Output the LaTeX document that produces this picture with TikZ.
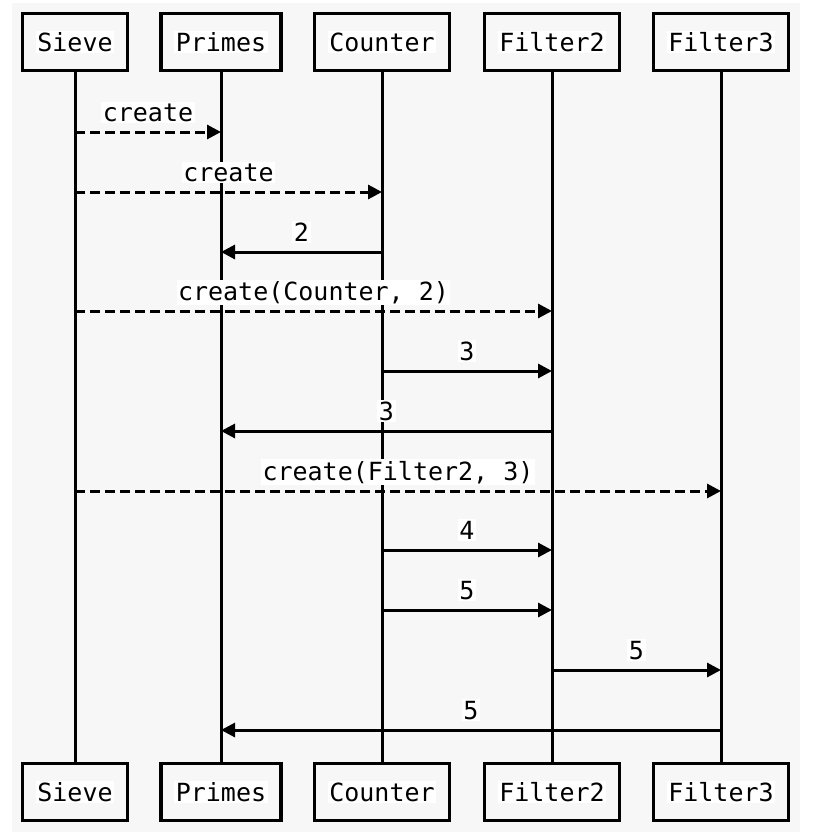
\documentclass[tikz,border=0pt]{standalone}
\usepackage{fontspec}
\usetikzlibrary{arrows.meta}
\newfontfamily\seqmono{DejaVu Sans Mono}
\newcommand\objfont{\seqmono\fontsize{25pt}{30pt}\selectfont}
\newcommand\wtxt[1]{{\setlength\fboxsep{1.5pt}\colorbox{white}{#1}}}
\definecolor{bg}{HTML}{F7F7F7}
\begin{document}
\begin{tikzpicture}[x=1pt,y=-1pt,
  obj/.style={draw, line width=3.4pt, font=\objfont, minimum height=57pt, inner xsep=13.5pt, inner ysep=0pt},
  life/.style={line width=3pt},
  msg/.style={line width=3pt, -{Triangle[length=14pt,width=14pt]}},
  async/.style={msg, dash pattern=on 10pt off 5pt},
  lbl/.style={midway, anchor=base, yshift=11pt, fill=white, inner sep=1.5pt, font=\objfont}]
\useasboundingbox (0,0) rectangle (816,838);
\fill[white] (0,0) rectangle (816,838);
\fill[bg] (12,3) rectangle (800,832);
% objects
\node[obj] (topS) at (75,42) {\wtxt{Sieve}};
\node[obj] (topP) at (221,42) {\wtxt{Primes}};
\node[obj] (topC) at (382,42) {\wtxt{Counter}};
\node[obj] (topF2) at (552,42) {\wtxt{Filter2}};
\node[obj] (topF3) at (721,42) {\wtxt{Filter3}};
\node[obj] (botS) at (75,792) {\wtxt{Sieve}};
\node[obj] (botP) at (221,792) {\wtxt{Primes}};
\node[obj] (botC) at (382,792) {\wtxt{Counter}};
\node[obj] (botF2) at (552,792) {\wtxt{Filter2}};
\node[obj] (botF3) at (721,792) {\wtxt{Filter3}};
% lifelines
\foreach \o in {S,P,C,F2,F3}
  \draw[life] (top\o.south) -- (bot\o.north);
% message rows
\coordinate (m1) at (0,132);
\coordinate (m2) at (0,192);
\coordinate (m3) at (0,252);
\coordinate (m4) at (0,311);
\coordinate (m5) at (0,371);
\coordinate (m6) at (0,431);
\coordinate (m7) at (0,491);
\coordinate (m8) at (0,550);
\coordinate (m9) at (0,610);
\coordinate (m10) at (0,670);
\coordinate (m11) at (0,730);
% messages
\draw[async] (topS |- m1) -- node[lbl]{create} (topP |- m1);
\draw[async] (topS |- m2) -- node[lbl]{create} (topC |- m2);
\draw[msg] (topC |- m3) -- node[lbl]{2} (topP |- m3);
\draw[async] (topS |- m4) -- node[lbl]{create(Counter, 2)} (topF2 |- m4);
\draw[msg] (topC |- m5) -- node[lbl]{3} (topF2 |- m5);
\draw[msg] (topF2 |- m6) -- node[lbl]{3} (topP |- m6);
\draw[async] (topS |- m7) -- node[lbl]{create(Filter2, 3)} (topF3 |- m7);
\draw[msg] (topC |- m8) -- node[lbl]{4} (topF2 |- m8);
\draw[msg] (topC |- m9) -- node[lbl]{5} (topF2 |- m9);
\draw[msg] (topF2 |- m10) -- node[lbl]{5} (topF3 |- m10);
\draw[msg] (topF3 |- m11) -- node[lbl]{5} (topP |- m11);
\end{tikzpicture}
\end{document}
